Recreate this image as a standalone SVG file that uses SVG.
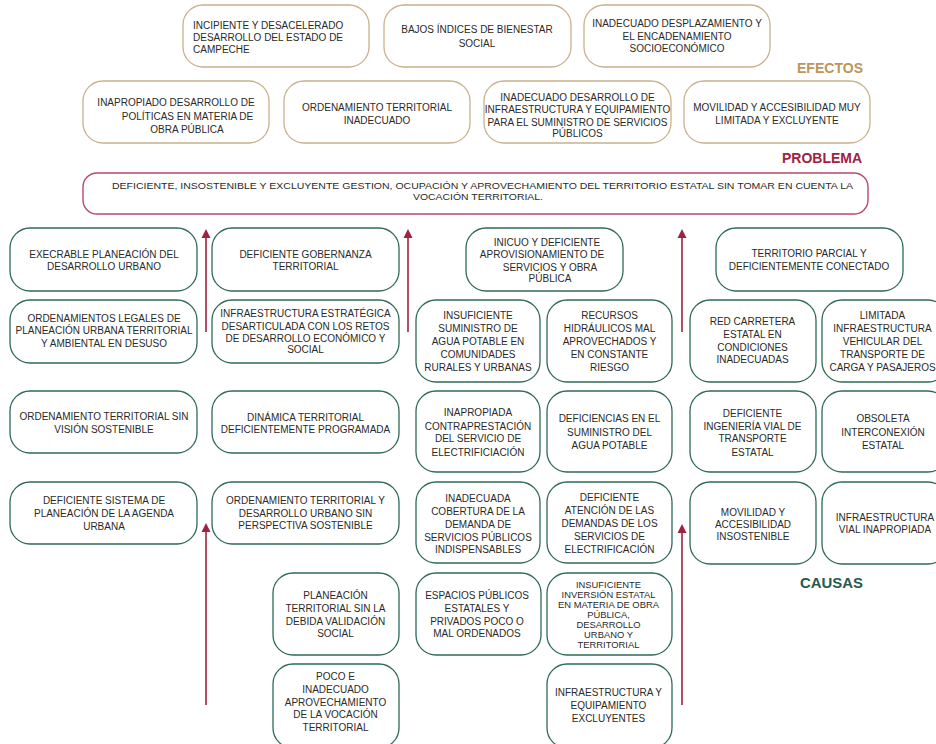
<svg xmlns="http://www.w3.org/2000/svg" width="936" height="744" viewBox="0 0 936 744">
<style>
.bg{fill:#ffffff}
.ef{fill:#ffffff;stroke:#c9b18c;stroke-width:1.3}
.ca{fill:#ffffff;stroke:#2f6a57;stroke-width:1.3}
.pr{fill:#ffffff;stroke:#b84a68;stroke-width:1.4}
text{font-family:"Liberation Sans",Arial,sans-serif;font-size:10px;fill:#2a2a2a}
.m{text-anchor:middle}
.s{font-size:9.4px}
.pt{font-size:9px}
.h{font-weight:bold;font-size:15px}
.arrow{stroke:#9f2241;stroke-width:1.6;fill:none;marker-end:url(#ah)}
</style>
<defs>
<marker id="ah" viewBox="0 0 10 10" refX="5.5" refY="5" markerWidth="9" markerHeight="10" markerUnits="userSpaceOnUse" orient="auto">
<path d="M0,0 L10,5 L0,10 z" fill="#9f2241"/>
</marker>
</defs>
<rect class="bg" x="0" y="0" width="936" height="744"/>

<!-- EFECTOS -->
<g id="e1"><rect class="ef" x="183" y="5" width="186" height="62" rx="20"/>
<text x="193" y="29">INCIPIENTE Y DESACELERADO</text><text x="193" y="41">DESARROLLO DEL ESTADO DE</text><text x="193" y="52.5">CAMPECHE</text></g>
<g id="e2"><rect class="ef" x="384" y="5" width="187" height="62" rx="20"/>
<text class="m" x="477" y="33">BAJOS ÍNDICES DE BIENESTAR</text><text class="m" x="477" y="46.5">SOCIAL</text></g>
<g id="e3"><rect class="ef" x="584" y="5" width="186" height="62" rx="20"/>
<text class="m" x="677" y="27">INADECUADO DESPLAZAMIENTO Y</text><text class="m" x="677" y="39.5">EL ENCADENAMIENTO</text><text class="m" x="677" y="52">SOCIOECONÓMICO</text></g>
<text class="h" x="797" y="73" style="fill:#bc955c" textLength="66" lengthAdjust="spacingAndGlyphs">EFECTOS</text>
<g id="e4"><rect class="ef" x="83" y="81" width="186" height="62" rx="20"/>
<text class="m" x="176" y="106">INAPROPIADO DESARROLLO DE</text><text class="m" x="187.5" y="119.5">POLÍTICAS EN MATERIA DE</text><text class="m" x="187" y="132.5">OBRA PÚBLICA</text></g>
<g id="e5"><rect class="ef" x="284" y="81" width="186" height="62" rx="20"/>
<text class="m" x="377" y="111">ORDENAMIENTO TERRITORIAL</text><text class="m" x="377" y="124">INADECUADO</text></g>
<g id="e6"><rect class="ef" x="484" y="81" width="187" height="62" rx="20"/>
<text class="m" x="577.5" y="101">INADECUADO DESARROLLO DE</text><text class="m" x="577.5" y="113">INFRAESTRUCTURA Y EQUIPAMIENTO</text><text class="m" x="577.5" y="125.5">PARA EL SUMINISTRO DE SERVICIOS</text><text class="m" x="577.5" y="137">PÚBLICOS</text></g>
<g id="e7"><rect class="ef" x="684" y="81" width="186" height="62" rx="20"/>
<text class="m" x="777" y="111">MOVILIDAD Y ACCESIBILIDAD MUY</text><text class="m" x="777" y="124">LIMITADA Y EXCLUYENTE</text></g>

<!-- PROBLEMA -->
<text class="h" x="782" y="163" style="fill:#9f2241" textLength="80" lengthAdjust="spacingAndGlyphs">PROBLEMA</text>
<g id="problema"><rect class="pr" x="83" y="173" width="785" height="41" rx="14"/>
<text class="m pt" x="482.5" y="189" textLength="741" lengthAdjust="spacingAndGlyphs">DEFICIENTE, INSOSTENIBLE Y EXCLUYENTE GESTION, OCUPACIÓN Y APROVECHAMIENTO DEL TERRITORIO ESTATAL SIN TOMAR EN CUENTA LA</text>
<text class="m pt" x="478" y="200" textLength="130" lengthAdjust="spacingAndGlyphs">VOCACIÓN TERRITORIAL.</text></g>

<!-- CAUSAS left -->
<g id="c1"><rect class="ca" x="10" y="228" width="187" height="63" rx="20"/>
<text class="m" x="104" y="257.5">EXECRABLE PLANEACIÓN DEL</text><text class="m" x="104" y="270">DESARROLLO URBANO</text></g>
<g id="c2"><rect class="ca" x="212" y="228" width="187" height="63" rx="20"/>
<text class="m" x="305.5" y="257.5">DEFICIENTE GOBERNANZA</text><text class="m" x="305.5" y="270">TERRITORIAL</text></g>
<g id="c3"><rect class="ca" x="10" y="300" width="187" height="63" rx="20"/>
<text class="m" x="104" y="321.7">ORDENAMIENTOS LEGALES DE</text><text class="m" x="104" y="334.3">PLANEACIÓN URBANA TERRITORIAL</text><text class="m" x="104" y="347.3">Y AMBIENTAL EN DESUSO</text></g>
<g id="c4"><rect class="ca" x="212" y="300" width="187" height="63" rx="20"/>
<text class="m" x="305.5" y="316.7">INFRAESTRUCTURA ESTRATÉGICA</text><text class="m" x="305.5" y="329.5">DESARTICULADA CON LOS RETOS</text><text class="m" x="305.5" y="341.7">DE DESARROLLO ECONÓMICO Y</text><text class="m" x="305.5" y="353.3">SOCIAL</text></g>
<g id="c5"><rect class="ca" x="10" y="391" width="187" height="62" rx="20"/>
<text class="m" x="104" y="419.5">ORDENAMIENTO TERRITORIAL SIN</text><text class="m" x="104" y="432.7">VISIÓN SOSTENIBLE</text></g>
<g id="c6"><rect class="ca" x="212" y="391" width="187" height="62" rx="20"/>
<text class="m" x="305.5" y="420.7">DINÁMICA TERRITORIAL</text><text class="m" x="305.5" y="433.3">DEFICIENTEMENTE PROGRAMADA</text></g>
<g id="c7"><rect class="ca" x="10" y="482" width="187" height="62" rx="20"/>
<text class="m" x="104" y="504">DEFICIENTE SISTEMA DE</text><text class="m" x="104" y="517.3">PLANEACIÓN DE LA AGENDA</text><text class="m" x="104" y="530">URBANA</text></g>
<g id="c8"><rect class="ca" x="212" y="482" width="187" height="62" rx="20"/>
<text class="m" x="305.5" y="504">ORDENAMIENTO TERRITORIAL Y</text><text class="m" x="305.5" y="516.7">DESARROLLO URBANO SIN</text><text class="m" x="305.5" y="529.3">PERSPECTIVA SOSTENIBLE</text></g>
<g id="c9"><rect class="ca" x="273" y="573" width="126" height="82" rx="20"/>
<text class="m" x="335.5" y="599.3">PLANEACIÓN</text><text class="m" x="335.5" y="612.3">TERRITORIAL SIN LA</text><text class="m" x="335.5" y="625">DEBIDA VALIDACIÓN</text><text class="m" x="335.5" y="637.3">SOCIAL</text></g>
<g id="c10"><rect class="ca" x="273" y="664" width="126" height="84" rx="20"/>
<text class="m" x="335.5" y="680">POCO E</text><text class="m" x="335.5" y="692.7">INADECUADO</text><text class="m" x="335.5" y="706">APROVECHAMIENTO</text><text class="m" x="335.5" y="718.3">DE LA VOCACIÓN</text><text class="m" x="335.5" y="731">TERRITORIAL</text></g>

<!-- CAUSAS middle -->
<g id="c11"><rect class="ca" x="466" y="228" width="157" height="63" rx="20"/>
<text class="m" x="547" y="245.7">INICUO Y DEFICIENTE</text><text class="m" x="542" y="257.7">APROVISIONAMIENTO DE</text><text class="m" x="550" y="270.5">SERVICIOS Y OBRA</text><text class="m" x="550" y="282.3">PÚBLICA</text></g>
<g id="c12"><rect class="ca" x="416" y="300" width="124" height="82" rx="20"/>
<text class="m" x="478" y="319.3">INSUFICIENTE</text><text class="m" x="478" y="332">SUMINISTRO DE</text><text class="m" x="478" y="344.7">AGUA POTABLE EN</text><text class="m" x="478" y="357.7">COMUNIDADES</text><text class="m" x="478" y="370.7">RURALES Y URBANAS</text></g>
<g id="c13"><rect class="ca" x="547" y="300" width="125" height="82" rx="20"/>
<text class="m" x="609.5" y="319.3">RECURSOS</text><text class="m" x="609.5" y="332">HIDRÁULICOS MAL</text><text class="m" x="609.5" y="344.7">APROVECHADOS Y</text><text class="m" x="609.5" y="357.7">EN CONSTANTE</text><text class="m" x="609.5" y="370.7">RIESGO</text></g>
<g id="c14"><rect class="ca" x="416" y="391" width="124" height="81" rx="20"/>
<text class="m" x="478" y="415.7">INAPROPIADA</text><text class="m" x="478" y="429.5">CONTRAPRESTACIÓN</text><text class="m" x="478" y="442.3">DEL SERVICIO DE</text><text class="m" x="478" y="455.7">ELECTRIFICIACIÓN</text></g>
<g id="c15"><rect class="ca" x="547" y="391" width="125" height="81" rx="20"/>
<text class="m" x="609.5" y="422.3">DEFICIENCIAS EN EL</text><text class="m" x="609.5" y="435.7">SUMINISTRO DEL</text><text class="m" x="609.5" y="449">AGUA POTABLE</text></g>
<g id="c16"><rect class="ca" x="416" y="482" width="124" height="81" rx="20"/>
<text class="m" x="478" y="502.3">INADECUADA</text><text class="m" x="478" y="515">COBERTURA DE LA</text><text class="m" x="478" y="527.7">DEMANDA DE</text><text class="m" x="478" y="540.7">SERVICIOS PÚBLICOS</text><text class="m" x="478" y="553.3">INDISPENSABLES</text></g>
<g id="c17"><rect class="ca" x="547" y="482" width="125" height="81" rx="20"/>
<text class="m" x="609.5" y="500.7">DEFICIENTE</text><text class="m" x="609.5" y="514">ATENCIÓN DE LAS</text><text class="m" x="609.5" y="526.7">DEMANDAS DE LOS</text><text class="m" x="609.5" y="540">SERVICIOS DE</text><text class="m" x="609.5" y="552.7">ELECTRIFICACIÓN</text></g>
<g id="c18"><rect class="ca" x="416" y="573" width="125" height="82" rx="20"/>
<text class="m" x="477" y="599.3">ESPACIOS PÚBLICOS</text><text class="m" x="477" y="612.3">ESTATALES Y</text><text class="m" x="477" y="625">PRIVADOS POCO O</text><text class="m" x="477" y="637.3">MAL ORDENADOS</text></g>
<g id="c19"><rect class="ca" x="547" y="573" width="125" height="82" rx="20"/>
<text class="m s" x="608.5" y="587.7">INSUFICIENTE</text><text class="m s" x="608.5" y="597.7">INVERSIÓN ESTATAL</text><text class="m s" x="608.5" y="607.7">EN MATERIA DE OBRA</text><text class="m s" x="608.5" y="617.7">PÚBLICA,</text><text class="m s" x="608.5" y="627.7">DESARROLLO</text><text class="m s" x="608.5" y="637.7">URBANO Y</text><text class="m s" x="608.5" y="648">TERRITORIAL</text></g>
<g id="c20"><rect class="ca" x="547" y="664" width="125" height="84" rx="20"/>
<text class="m" x="608.5" y="696">INFRAESTRUCTURA Y</text><text class="m" x="608.5" y="709">EQUIPAMIENTO</text><text class="m" x="608.5" y="721.7">EXCLUYENTES</text></g>

<!-- CAUSAS right -->
<g id="c21"><rect class="ca" x="716" y="228" width="187" height="63" rx="20"/>
<text class="m" x="809" y="256.7">TERRITORIO PARCIAL Y</text><text class="m" x="809" y="270">DEFICIENTEMENTE CONECTADO</text></g>
<g id="c22"><rect class="ca" x="690" y="300" width="126" height="82" rx="20"/>
<text class="m" x="752.5" y="325">RED CARRETERA</text><text class="m" x="752.5" y="338.3">ESTATAL EN</text><text class="m" x="752.5" y="351">CONDICIONES</text><text class="m" x="752.5" y="363.3">INADECUADAS</text></g>
<g id="c23"><rect class="ca" x="822" y="300" width="126" height="82" rx="20"/>
<text class="m" x="882.5" y="319">LIMITADA</text><text class="m" x="882.5" y="332">INFRAESTRUCTURA</text><text class="m" x="882.5" y="345">VEHICULAR DEL</text><text class="m" x="882.5" y="357.7">TRANSPORTE DE</text><text class="m" x="882.5" y="370.7">CARGA Y PASAJEROS</text></g>
<g id="c24"><rect class="ca" x="690" y="391" width="126" height="81" rx="20"/>
<text class="m" x="752.5" y="416.7">DEFICIENTE</text><text class="m" x="752.5" y="430">INGENIERÍA VIAL DE</text><text class="m" x="752.5" y="442.3">TRANSPORTE</text><text class="m" x="752.5" y="455.7">ESTATAL</text></g>
<g id="c25"><rect class="ca" x="822" y="391" width="126" height="81" rx="20"/>
<text class="m" x="883" y="422.3">OBSOLETA</text><text class="m" x="883" y="435.7">INTERCONEXIÓN</text><text class="m" x="883" y="449">ESTATAL</text></g>
<g id="c26"><rect class="ca" x="690" y="482" width="126" height="82" rx="20"/>
<text class="m" x="753" y="515.7">MOVILIDAD Y</text><text class="m" x="753" y="527.7">ACCESIBILIDAD</text><text class="m" x="753" y="540">INSOSTENIBLE</text></g>
<g id="c27"><rect class="ca" x="822" y="482" width="126" height="82" rx="20"/>
<text class="m" x="885" y="521">INFRAESTRUCTURA</text><text class="m" x="885" y="533.3">VIAL INAPROPIADA</text></g>
<text class="h" x="800" y="588" style="fill:#235b4e" textLength="63" lengthAdjust="spacingAndGlyphs">CAUSAS</text>

<!-- connectors -->
<g id="connectors">
<line class="arrow" x1="206" y1="332" x2="206" y2="233"/>
<line class="arrow" x1="408" y1="332" x2="408" y2="233"/>
<line class="arrow" x1="682" y1="332" x2="682" y2="233"/>
<line class="arrow" x1="206" y1="705" x2="206" y2="527"/>
<line class="arrow" x1="682" y1="705" x2="682" y2="528"/>
</g>
</svg>
